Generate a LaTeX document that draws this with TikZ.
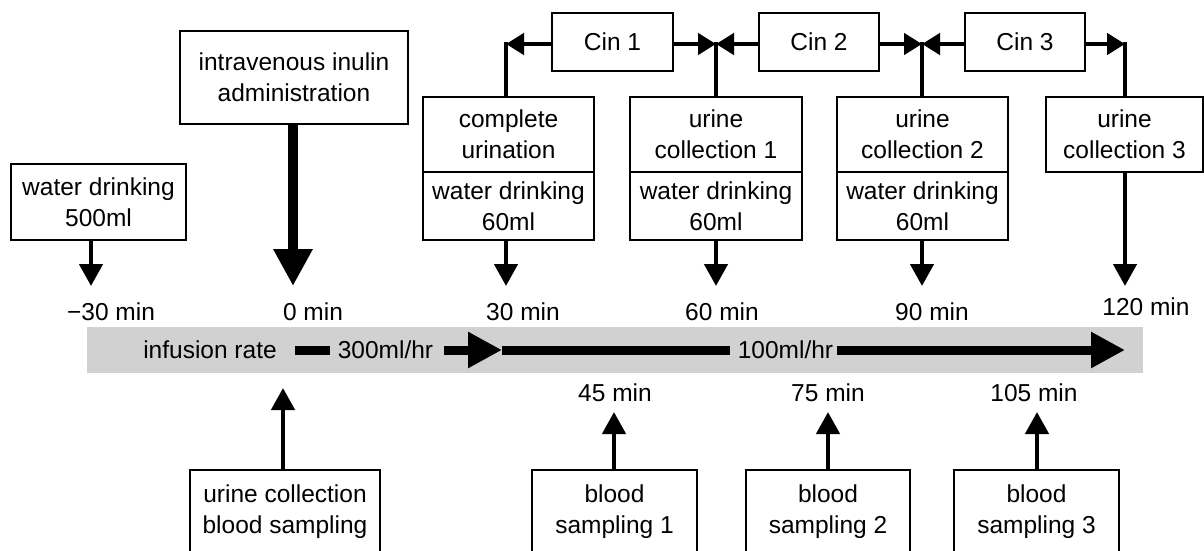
\documentclass[tikz,border=0pt]{standalone}
\usepackage{fontspec}
\setmainfont{Liberation Sans}
\usetikzlibrary{arrows.meta}
\begin{document}
\begin{tikzpicture}[x=1pt,y=-1pt,
  box/.style={draw,line width=2.6pt,inner sep=0pt,align=center,font=\fontsize{24.5}{31}\selectfont},
  lbl/.style={inner sep=0pt,font=\fontsize{24.5}{28}\selectfont},
  conn/.style={line width=4.5pt,line cap=rect},
  harr/.style={line width=4.5pt,-{Triangle[length=18pt,width=21pt]}},
  tarr/.style={line width=4.5pt,-{Triangle[length=22pt,width=23pt]}},
  bigarr/.style={line width=10pt,-{Triangle[length=37pt,width=37pt]}},
  bar/.style={line width=9pt},
  bararr/.style={line width=9pt,-{Triangle[length=34pt,width=34pt]}},
]
\useasboundingbox (0,0) rectangle (1204,550);
\clip (0,0) rectangle (1204,550);

% infusion band
\fill[black!18] (87,327) rectangle (1143,373);

% top boxes
\node[box,minimum width=175pt,minimum height=76pt] (wd) at (98.5,202) {water drinking\\500ml};
\node[box,minimum width=228pt,minimum height=93pt] (iv) at (294,77.5) {intravenous inulin\\administration};

\node[box,minimum width=121pt,minimum height=58pt] (cin1) at (612.5,42) {Cin 1};
\node[box,minimum width=120pt,minimum height=58pt] (cin2) at (819,42) {Cin 2};
\node[box,minimum width=120pt,minimum height=58pt] (cin3) at (1025,42) {Cin 3};

\node[box,minimum width=171pt,minimum height=75pt] (cu) at (508.5,134.5) {complete\\urination};
\node[box,minimum width=171pt,minimum height=68pt] (cuw) at (508.5,206) {water drinking\\60ml};
\node[box,minimum width=172pt,minimum height=75pt] (u1) at (716,134.5) {urine\\collection 1};
\node[box,minimum width=172pt,minimum height=68pt] (u1w) at (716,206) {water drinking\\60ml};
\node[box,minimum width=171pt,minimum height=75pt] (u2) at (922.5,134.5) {urine\\collection 2};
\node[box,minimum width=171pt,minimum height=68pt] (u2w) at (922.5,206) {water drinking\\60ml};
\node[box,minimum width=157pt,minimum height=75pt] (u3) at (1124.5,134.5) {urine\\collection 3};

% corners of the Cin connectors
\coordinate (c1) at (506,44);
\coordinate (c2) at (716,44);
\coordinate (c3) at (922,44);
\coordinate (c4) at (1125,44);

\draw[conn] (c1) -- (c1 |- cu.north);
\draw[conn] (c2) -- (c2 |- u1.north);
\draw[conn] (c3) -- (c3 |- u2.north);
\draw[conn] (c4) -- (c4 |- u3.north);
\draw[harr] (cin1.west |- c1) -- (c1);
\draw[harr] (cin1.east |- c2) -- (c2);
\draw[harr] (cin2.west |- c2) -- (c2);
\draw[harr] (cin2.east |- c3) -- (c3);
\draw[harr] (cin3.west |- c3) -- (c3);
\draw[harr] (cin3.east |- c4) -- (c4);

% time points (top)
\coordinate (tm30) at (91,286);
\coordinate (t0) at (293,286);
\coordinate (t30) at (506,286);
\coordinate (t60) at (716,286);
\coordinate (t90) at (922,286);
\coordinate (t120) at (1125,286);

\draw[tarr] (tm30 |- wd.south) -- (tm30);
\draw[bigarr] (t0 |- iv.south) -- (t0);
\draw[tarr] (t30 |- cuw.south) -- (t30);
\draw[tarr] (t60 |- u1w.south) -- (t60);
\draw[tarr] (t90 |- u2w.south) -- (t90);
\draw[tarr] (t120 |- u3.south) -- (t120);

\node[lbl] (lm30) at (111,312) {−30 min};
\node[lbl] (l0) at (313,312) {0 min};
\node[lbl] (l30) at (523,312) {30 min};
\node[lbl] (l60) at (722,312) {60 min};
\node[lbl] (l90) at (932,312) {90 min};
\node[lbl] (l120) at (1146,307) {120 min};

% infusion rate
\node[lbl] (ir) at (210,350) {infusion rate};
\node[lbl] (r300) at (385.5,350) {300ml/hr};
\node[lbl] (r100) at (785.5,350) {100ml/hr};
\coordinate (a30) at (502,350);
\coordinate (aend) at (1125,350);
\draw[bar,shorten <=18pt,shorten >=8pt] (ir.east) -- (r300.west);
\draw[bararr,shorten <=11pt] (r300.east) -- (a30);
\draw[bar,shorten >=8pt] (a30) -- (r100.west);
\draw[bararr,shorten <=4pt] (r100.east) -- (aend);

% bottom labels
\node[lbl] (l45) at (615,393) {45 min};
\node[lbl] (l75) at (828,393) {75 min};
\node[lbl] (l105) at (1034,393) {105 min};

% bottom boxes
\node[box,minimum width=190pt,minimum height=83pt] (ucbs) at (285,511.5) {urine collection\\blood sampling};
\node[box,minimum width=165pt,minimum height=83pt] (bs1) at (614.5,511.5) {blood\\sampling 1};
\node[box,minimum width=164pt,minimum height=83pt] (bs2) at (828,511.5) {blood\\sampling 2};
\node[box,minimum width=165pt,minimum height=83pt] (bs3) at (1036.5,511.5) {blood\\sampling 3};

\coordinate (b0) at (283,388);
\coordinate (b45) at (614,412);
\coordinate (b75) at (828,412);
\coordinate (b105) at (1037,412);
\draw[tarr] (b0 |- ucbs.north) -- (b0);
\draw[tarr] (b45 |- bs1.north) -- (b45);
\draw[tarr] (b75 |- bs2.north) -- (b75);
\draw[tarr] (b105 |- bs3.north) -- (b105);
\end{tikzpicture}
\end{document}
